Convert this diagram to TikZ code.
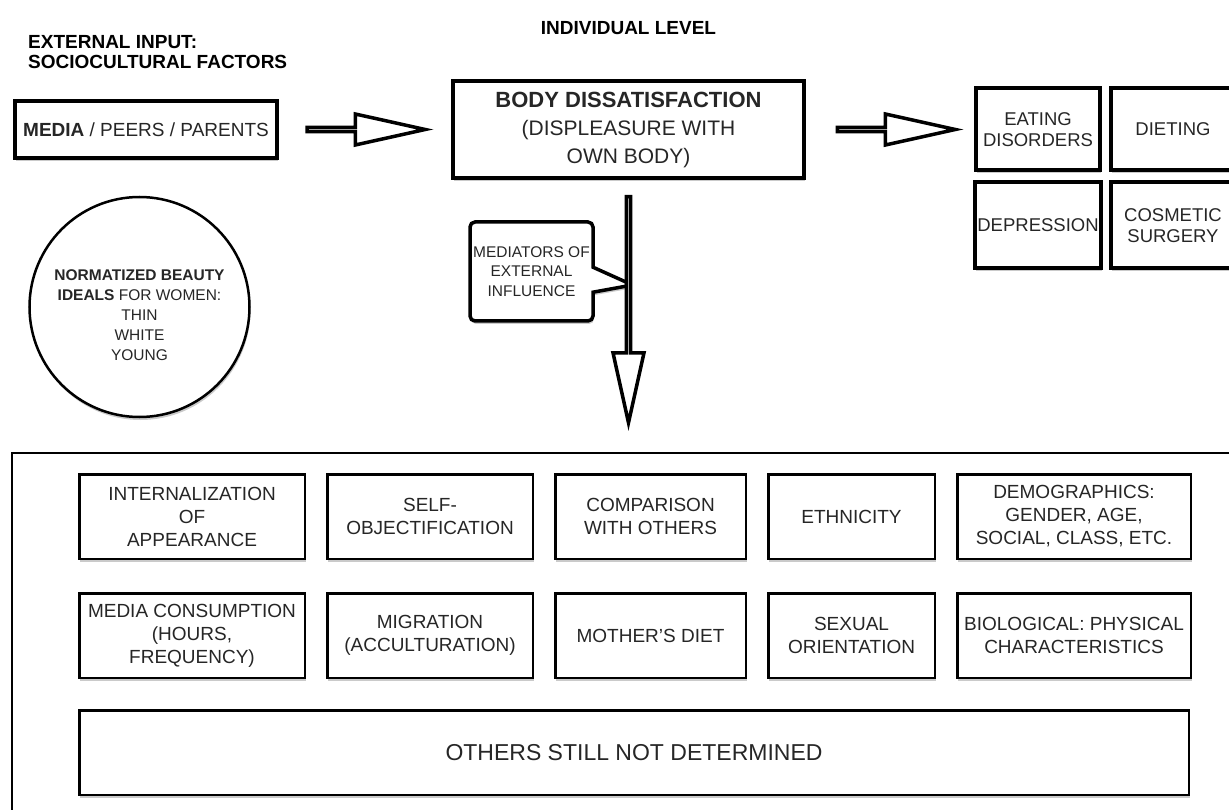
\documentclass[tikz,border=0pt]{standalone}
\usepackage{fontspec}
\setmainfont{Liberation Sans}
\usetikzlibrary{positioning,shapes.arrows,shapes.callouts,shadows,calc}

\begin{document}
\begin{tikzpicture}[x=1pt, y=-1pt, node distance=20pt,
  heading/.style={font=\bfseries\fontsize{19}{20.5}\selectfont, inner sep=0pt},
  softshadow/.style={drop shadow={shadow xshift=1pt, shadow yshift=-3pt, opacity=.35, fill=black!60}},
  bigbox/.style={draw, line width=4pt, fill=white, align=center, inner sep=2pt, text=black!85, softshadow},
  outcome/.style={bigbox, minimum width=124pt, minimum height=82pt, font=\fontsize{18.5}{21.5}\selectfont},
  factor/.style={draw, line width=2.5pt, fill=white, align=center, inner sep=2pt, text=black!85,
    minimum height=84.5pt, font=\fontsize{19}{23}\selectfont, softshadow},
  fatarrow/.style={single arrow, draw, fill=white, line width=3.5pt, inner sep=0pt,
    minimum width=31pt, minimum height=118pt, single arrow head extend=11.5pt, single arrow tip angle=25},
  outerframe/.style={draw, line width=2pt, inner sep=0pt}]

  \useasboundingbox (0,0) rectangle (1229,810);

  % titles
  \node[heading, anchor=north west, align=left] (external) at (28,35) {EXTERNAL INPUT:\\SOCIOCULTURAL FACTORS};

  % top row
  \node[bigbox, minimum width=262pt, minimum height=57pt, font=\fontsize{19}{23}\selectfont] (media) at (146,129.5) {\textbf{MEDIA} / PEERS / PARENTS};
  \node[bigbox, right=172pt of media, minimum width=351pt, minimum height=97pt, font=\fontsize{21}{28}\selectfont] (body) {{\fontsize{22}{28}\selectfont\bfseries BODY DISSATISFACTION}\\(DISPLEASURE WITH\\OWN BODY)};
  \node[heading, above=44pt of body] (individual) {INDIVIDUAL LEVEL};

  \node[outcome, right=168pt of body] (eating) {EATING\\DISORDERS};
  \node[outcome, right=7pt of eating] (dieting) {DIETING};
  \node[outcome, below=8pt of eating, minimum height=86pt] (depression) {DEPRESSION};
  \node[outcome, below=8pt of dieting, minimum height=86pt] (cosmetic) {COSMETIC\\SURGERY};

  % beauty ideals
  \node[circle, draw, line width=2.5pt, fill=white, minimum size=220pt, align=center, text=black!85,
    font=\fontsize{15.5}{20}\selectfont, softshadow] (ideals) at (139.5,307)
    {\rule{0pt}{27pt}\textbf{NORMATIZED BEAUTY}\\\textbf{IDEALS} FOR WOMEN:\\THIN\\WHITE\\YOUNG};

  % mediators
  \node[rectangle callout, draw, line width=3.5pt, rounded corners=5pt, fill=white, minimum width=123pt, minimum height=99pt,
    callout absolute pointer={($(body.south)+(4,105)$)}, callout pointer width=25pt, align=center, text=black!85,
    inner sep=1pt, font=\fontsize{15.5}{19.5}\selectfont, softshadow] (mediators) at (531.5,271.5) {MEDIATORS OF\\EXTERNAL\\INFLUENCE};

  % lower frame
  \node[outerframe, anchor=north west, minimum width=1300pt, minimum height=420pt] (outer) at (11,452) {};

  \node[factor, minimum width=225.5pt] (internal) at (192,516.5) {INTERNALIZATION\\OF\\APPEARANCE};
  \node[factor, right=of internal, minimum width=205.5pt] (selfobj) {SELF-\\OBJECTIFICATION};
  \node[factor, right=of selfobj, minimum width=190.5pt] (compare) {COMPARISON\\WITH OTHERS};
  \node[factor, right=of compare, minimum width=166.5pt] (ethnic) {ETHNICITY};
  \node[factor, right=of ethnic, minimum width=233.5pt] (demo) {DEMOGRAPHICS:\\GENDER, AGE,\\SOCIAL, CLASS, ETC.};

  \node[factor, below=32pt of internal, minimum width=225.5pt] (mediause) {MEDIA CONSUMPTION\\(HOURS,\\FREQUENCY)};
  \node[factor, right=of mediause, minimum width=205.5pt] (migration) {MIGRATION\\(ACCULTURATION)};
  \node[factor, right=of migration, minimum width=190.5pt] (mother) {MOTHER'S DIET};
  \node[factor, right=of mother, minimum width=166.5pt] (sexual) {SEXUAL\\ORIENTATION};
  \node[factor, right=of sexual, minimum width=233.5pt] (biology) {BIOLOGICAL: PHYSICAL\\CHARACTERISTICS};

  \node[factor, below=30pt of mediause.south west, anchor=north west, minimum width=1109.5pt,
    font=\fontsize{23}{27}\selectfont] (others) {OTHERS STILL NOT DETERMINED};

  % arrows
  \path (media) -- node[fatarrow, pos=.48] (feeds) {} (body);
  \path (body.east) -- node[fatarrow, pos=.51] (leads) {} (body.east -| eating.west);
  \path (body.south) -- node[fatarrow, pos=.46, rotate=-90, minimum height=226pt] (down) {} (body.south |- outer.north);
\end{tikzpicture}
\end{document}
